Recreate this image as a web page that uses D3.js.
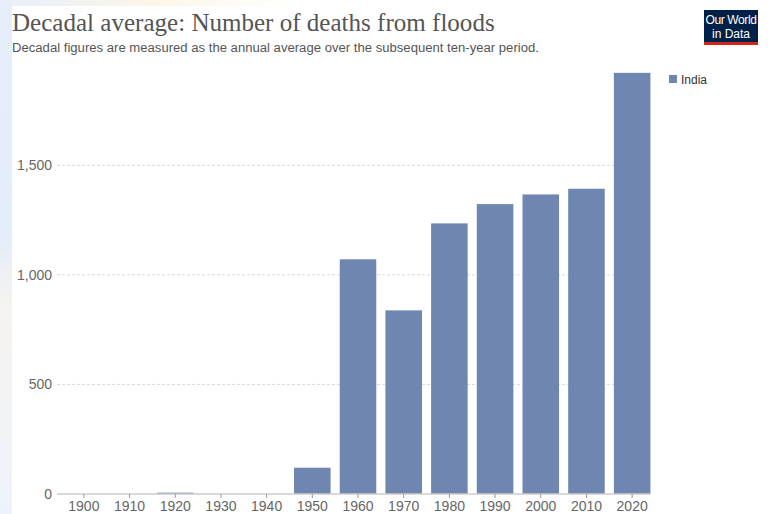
<!DOCTYPE html>
<html>
<head>
<meta charset="utf-8">
<script src="https://cdn.jsdelivr.net/npm/d3@7"></script>
<style>
  html, body { margin: 0; padding: 0; background: #fff; }
  svg { display: block; }
</style>
</head>
<body>
<svg id="chart" width="770" height="514"></svg>
<script>
const categories = ["1900","1910","1920","1930","1940","1950","1960","1970","1980","1990","2000","2010","2020"];
const values = [0, 0, 6, 0, 0, 120, 1071, 838, 1235, 1323, 1367, 1393, 1922];
const yTicks = [0, 500, 1000, 1500];
const seriesName = "India";
const titleText = "Decadal average: Number of deaths from floods";
const subtitleText = "Decadal figures are measured as the annual average over the subsequent ten-year period.";

const svg = d3.select("#chart");
const barColor = "#6f87b0";

// faint background watermark strip on left
const defs = svg.append("defs");
const lg = defs.append("linearGradient").attr("id","wm").attr("x1",0).attr("y1",0).attr("x2",0).attr("y2",1);
lg.append("stop").attr("offset","0%").attr("stop-color","#e6eefb");
lg.append("stop").attr("offset","45%").attr("stop-color","#e3ecfa");
lg.append("stop").attr("offset","60%").attr("stop-color","#f6f3f0");
lg.append("stop").attr("offset","100%").attr("stop-color","#eef3fb");
svg.append("rect").attr("x",0).attr("y",0).attr("width",12).attr("height",514).attr("fill","url(#wm)");
const tg = defs.append("linearGradient").attr("id","wmt").attr("x1",0).attr("y1",0).attr("x2",1).attr("y2",0);
tg.append("stop").attr("offset","0%").attr("stop-color","#e8eefa");
tg.append("stop").attr("offset","50%").attr("stop-color","#fbf6e6");
tg.append("stop").attr("offset","100%").attr("stop-color","#ffffff");
svg.append("rect").attr("x",0).attr("y",0).attr("width",300).attr("height",6).attr("fill","url(#wmt)");

const x = d3.scaleBand().domain(categories).range([61, 655]).paddingInner(0.2).paddingOuter(0.1);
const y = d3.scaleLinear().domain([0, 2000]).range([494, 494 - 2000 * 0.21913]);

// gridlines
svg.append("g").selectAll("line").data(yTicks.filter(d => d > 0)).join("line")
  .attr("x1", 57).attr("x2", 650)
  .attr("y1", d => y(d)).attr("y2", d => y(d))
  .attr("stroke", "#d9d9d9").attr("stroke-width", 1).attr("stroke-dasharray", "3,2");

// y labels
svg.append("g").selectAll("text").data(yTicks).join("text")
  .attr("x", 52).attr("y", d => y(d) + 5)
  .attr("text-anchor", "end")
  .attr("font-family", "Liberation Sans, Arial, sans-serif")
  .attr("font-size", 14).attr("fill", "#666")
  .text(d => d3.format(",")(d));

// bars
svg.append("g").selectAll("rect").data(values).join("rect")
  .attr("x", (d, i) => x(categories[i]))
  .attr("width", x.bandwidth())
  .attr("y", d => y(d))
  .attr("height", d => y(0) - y(d))
  .attr("fill", barColor);

// x axis
const xAxis = d3.axisBottom(x).tickSize(4).tickSizeOuter(0);
const gx = svg.append("g").attr("transform", `translate(0,${y(0)})`).call(xAxis);
gx.select(".domain").remove();
gx.insert("line", ":first-child").attr("x1", 57).attr("x2", 650).attr("y1", 0).attr("y2", 0)
  .attr("stroke", "#ccc").attr("stroke-width", 1.5);
gx.selectAll(".tick line").attr("stroke", "#999");
gx.selectAll(".tick text")
  .attr("font-family", "Liberation Sans, Arial, sans-serif")
  .attr("font-size", 14).attr("fill", "#666").attr("dy", null).attr("y", 16.5);

// title
const title = svg.append("text").attr("x", 12).attr("y", 31)
  .attr("font-family", "Liberation Serif, Times New Roman, serif")
  .attr("font-size", 24).attr("fill", "#555").text(titleText);
let tw = title.node().getComputedTextLength();
title.attr("font-size", 24 * 483 / tw);

const sub = svg.append("text").attr("x", 12).attr("y", 52)
  .attr("font-family", "Liberation Sans, Arial, sans-serif")
  .attr("font-size", 13).attr("fill", "#555").text(subtitleText);
let sw = sub.node().getComputedTextLength();
sub.attr("font-size", 13 * 527 / sw);

// logo
const logo = svg.append("g");
logo.append("rect").attr("x", 704).attr("y", 10).attr("width", 54).attr("height", 35).attr("fill", "#002147");
logo.append("rect").attr("x", 704).attr("y", 42).attr("width", 54).attr("height", 3).attr("fill", "#ce261e");
logo.append("text").attr("x", 731).attr("y", 24).attr("text-anchor", "middle")
  .attr("font-family", "Liberation Sans, Arial, sans-serif").attr("font-size", 12).attr("fill", "#fff")
  .attr("letter-spacing", -0.4).text("Our World");
logo.append("text").attr("x", 731).attr("y", 37.5).attr("text-anchor", "middle")
  .attr("font-family", "Liberation Sans, Arial, sans-serif").attr("font-size", 12).attr("fill", "#fff")
  .text("in Data");

// legend
const leg = svg.append("g");
leg.append("rect").attr("x", 669).attr("y", 75).attr("width", 8).attr("height", 8).attr("fill", barColor);
leg.append("text").attr("x", 681).attr("y", 84)
  .attr("font-family", "Liberation Sans, Arial, sans-serif").attr("font-size", 12).attr("fill", "#333")
  .text(seriesName);
</script>
</body>
</html>
